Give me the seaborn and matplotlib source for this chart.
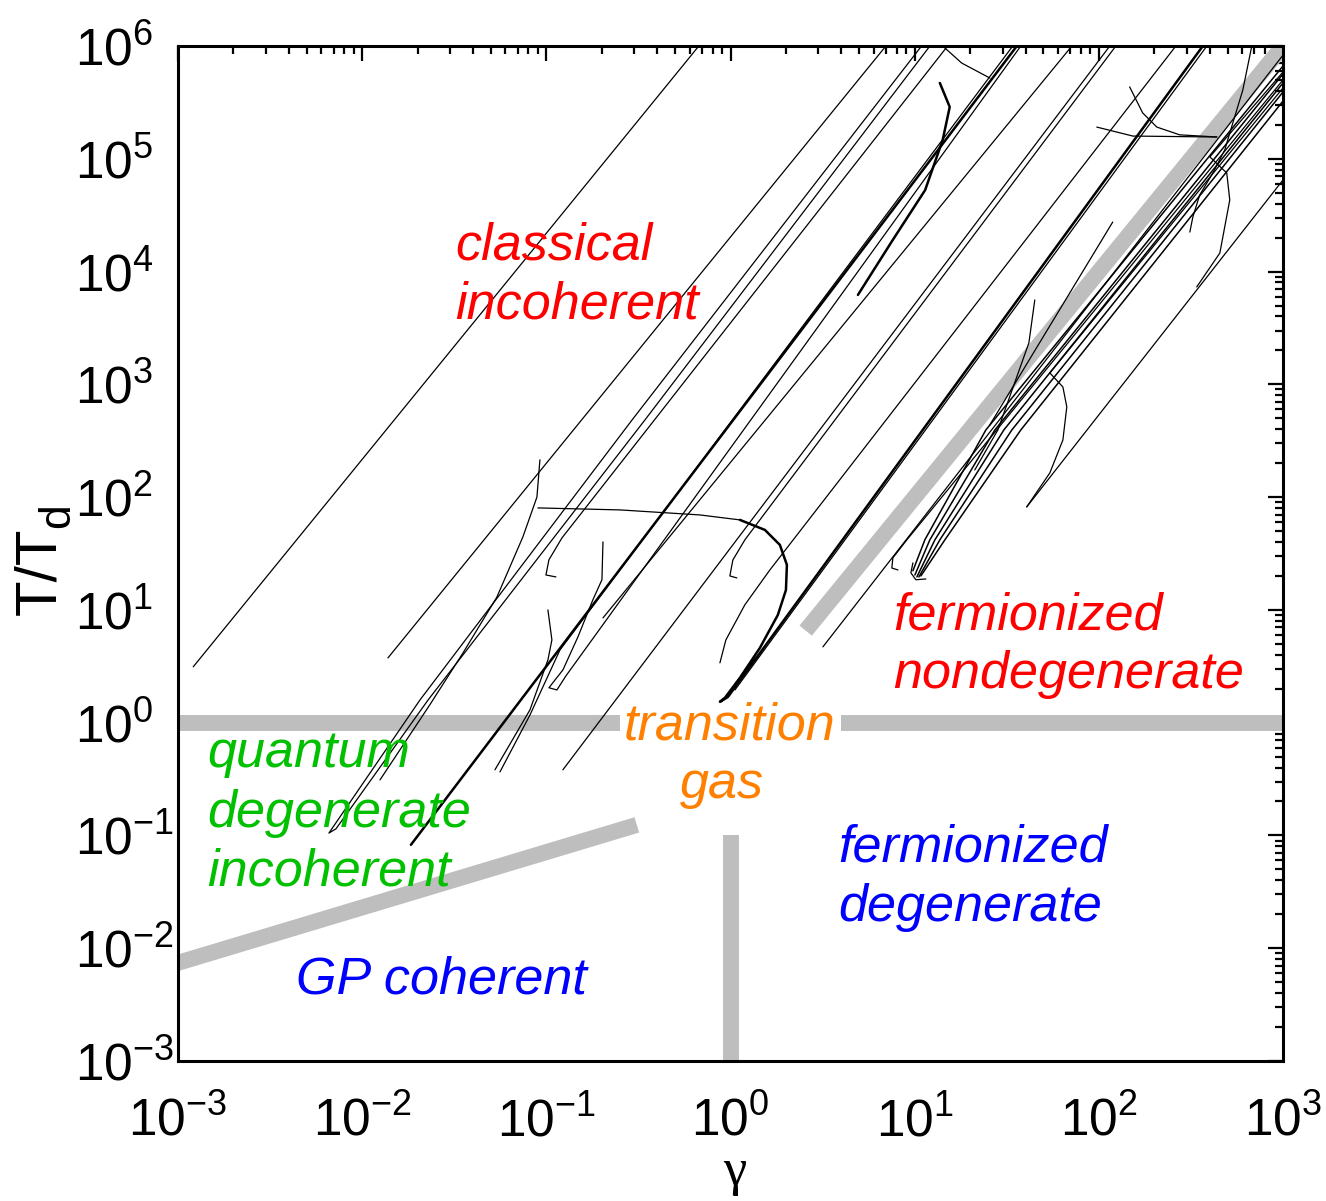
import numpy as np
import pandas as pd
import matplotlib
matplotlib.use("Agg")
import matplotlib.pyplot as plt
import seaborn as sns
from matplotlib.ticker import FixedLocator, NullFormatter

# ---------------- data ----------------
# axis decades
gamma_decades = [1e-3, 1e-2, 1e-1, 1e0, 1e1, 1e2, 1e3]
T_decades = [1e-3, 1e-2, 1e-1, 1e0, 1e1, 1e2, 1e3, 1e4, 1e5, 1e6]

# straight power-law trajectories: low end -> high end
straight_gamma_lo = [1.21e-3, 0.0138, 0.123, 0.203, 3.175, 40.6, 25.6, 1.057]
straight_T_lo     = [3.13, 3.75, 0.382, 8.49, 4.70, 81.9, 437, 1.95]
straight_gamma_hi = [0.673, 6.98, 114.7, 71.4, 1000, 1000, 119, 386]
straight_T_hi     = [1e6, 1e6, 1e6, 1e6, 8.3e5, 6.49e4, 2.75e4, 1e6]

# bold bundle
bundle_gamma = [0.0184, 35.9]
bundle_T = [0.0826, 1e6]

# curved / hooked trajectories
a_gamma = [10.9, 0.292, 0.0206, 6.6e-3, 7.21e-3, 0.0228, 0.343, 12.1]
a_T = [1e6, 483, 1.59, 0.105, 0.1145, 1.59, 483, 1e6]
c1_gamma = [0.0923, 0.0889, 0.0746, 0.0539, 0.0353, 0.0233, 0.0125]
c1_T = [214, 100, 44.4, 13.0, 4.16, 1.44, 0.311]
h1_gamma = [0.1127, 0.0995, 0.1033, 0.1216, 15.1]
h1_T = [19.6, 20.4, 27.8, 43.5, 1e6]
c2_gamma = [0.203, 0.2004, 0.179, 0.1485, 0.1231, 0.1033, 0.1141, 0.1278, 37.7]
c2_T = [40.1, 18.5, 12.3, 5.77, 2.94, 2.04, 1.95, 2.60, 1e6]
c3_gamma = [0.102, 0.1072, 0.102, 0.0815, 0.0526]
c3_T = [10.0, 5.42, 3.60, 1.30, 0.382]
c3b_gamma = [0.056, 0.0815, 0.1186, 34.1]
c3b_T = [0.366, 1.17, 4.42, 1e6]
c4_flat_gamma = [0.090, 0.251, 0.682, 1.125]
c4_flat_T = [80.2, 77.0, 69.5, 62.8]
c4_bend_gamma = [1.125, 1.537, 1.854, 2.024, 2.0, 1.808, 1.444,
                 1.125, 0.932, 0.876, 0.968, 367]
c4_bend_T = [62.8, 51.2, 37.7, 25.1, 15.0, 9.03, 4.60,
             2.50, 1.66, 1.53, 1.69, 1e6]
c5_gamma = [0.876, 0.944, 1.197, 1.636, 262]
c5_T = [3.39, 5.42, 11.1, 22.6, 1e6]
c6_gamma = [1.083, 0.992, 1.03, 1.197, 123.7]
c6_T = [19.2, 20.0, 27.7, 41.8, 1e6]
c7_gamma = [8.11, 7.52, 7.61, 9.07, 1000]
c7_T = [22.6, 23.5, 28.9, 41.8, 5.0e5]
fan1_gamma = [9.78, 11.36, 24.35, 1000]
fan1_T = [22.2, 41.8, 394, 6.65e5]
fan2_gamma = [10.03, 12.09, 27.26, 1000]
fan2_T = [20.4, 41.8, 394, 5.65e5]
fan3_gamma = [10.28, 12.88, 30.5, 1000]
fan3_T = [19.6, 41.8, 394, 4.70e5]
fan4_gamma = [10.54, 13.70, 33.7, 1000]
fan4_T = [19.6, 41.8, 394, 3.91e5]
fan5_gamma = [10.81, 14.59, 37.7, 1000]
fan5_T = [20.0, 41.8, 394, 3.25e5]
curl_gamma = [11.50, 10.15, 9.54, 9.78]
curl_T = [18.8, 18.5, 21.3, 26.1]
c8_gamma = [1000, 54.2, 63.8, 67.0, 63.8, 54.2, 40.6]
c8_T = [4.25e5, 1262, 948, 631, 321, 164, 81.9]
c9_gamma = [1000, 400.6, 495, 514, 454, 340]
c9_T = [5.88e5, 1.04e5, 7.48e4, 4.31e4, 1.46e4, 7300]
c10_gamma = [677, 605, 534, 483, 416, 353, 324, 312]
c10_T = [1e6, 4.07e5, 2.08e5, 1.20e5, 7.48e4, 4.78e4, 3.05e4, 2.24e4]
c11_gamma = [147, 173, 206.5, 275, 437]
c11_T = [4.34e5, 2.55e5, 1.91e5, 1.63e5, 1.56e5]
c12_gamma = [97.5, 153, 437]
c12_T = [1.91e5, 1.59e5, 1.56e5]
c13_gamma = [44.9, 41.7, 28.3, 21.2]
c13_T = [5600, 2330, 394, 174]
c14_gamma = [25.6, 18.0, 14.2]
c14_T = [5.2e5, 7.06e5, 1e6]
c15_gamma = [13.7, 15.5, 14.2, 11.4, 7.61, 4.92]
c15_T = [4.7e5, 2.88e5, 1.47e5, 5.28e4, 1.91e4, 6210]

# regime boundaries (gray)
bound_h1_gamma = [1e-3, 0.251]; bound_h1_T = [1, 1]
bound_h2_gamma = [3.97, 1000]; bound_h2_T = [1, 1]
bound_v_gamma = [1, 1]; bound_v_T = [1e-3, 0.1]
bound_gp_gamma = [8e-4, 0.31]; bound_gp_T = [6.65e-3, 0.124]
bound_f_gamma = [2.56, 1200]; bound_f_T = [6.55, 1.44e6]

# region labels
label_lines = ["classical", "incoherent", "fermionized", "nondegenerate",
               "transition", "gas", "quantum", "degenerate", "incoherent",
               "fermionized", "degenerate", "GP coherent"]
label_colors = ["#FF0000", "#FF0000", "#FF0000", "#FF0000",
                "#FF8000", "#FF8000", "#00C000", "#00C000", "#00C000",
                "#0000FF", "#0000FF", "#0000FF"]

# ---------------- assemble ----------------
def frame(items):
    parts = []
    for name, g, t in items:
        parts.append(pd.DataFrame({"gamma": g, "T": t, "traj": name,
                                   "order": np.arange(len(g))}))
    return pd.concat(parts, ignore_index=True)

thin_items = [(f"s{i}", [gl, gh], [tl, th]) for i, (gl, tl, gh, th) in
              enumerate(zip(straight_gamma_lo, straight_T_lo,
                            straight_gamma_hi, straight_T_hi))]
thin_items += [("a", a_gamma, a_T), ("c1", c1_gamma, c1_T), ("h1", h1_gamma, h1_T),
               ("c2", c2_gamma, c2_T), ("c3", c3_gamma, c3_T), ("c3b", c3b_gamma, c3b_T),
               ("c4f", c4_flat_gamma, c4_flat_T),
               ("c5", c5_gamma, c5_T), ("c6", c6_gamma, c6_T), ("c7", c7_gamma, c7_T),
               ("curl", curl_gamma, curl_T),
               ("c8", c8_gamma, c8_T), ("c9", c9_gamma, c9_T), ("c10", c10_gamma, c10_T),
               ("c11", c11_gamma, c11_T), ("c12", c12_gamma, c12_T),
               ("c13", c13_gamma, c13_T), ("c14", c14_gamma, c14_T)]
fan_items = [("f1", fan1_gamma, fan1_T), ("f2", fan2_gamma, fan2_T),
             ("f3", fan3_gamma, fan3_T), ("f4", fan4_gamma, fan4_T),
             ("f5", fan5_gamma, fan5_T)]
bold_items = [("b", bundle_gamma, bundle_T), ("c4b", c4_bend_gamma, c4_bend_T),
              ("c15", c15_gamma, c15_T)]
gray_items = [("h1", bound_h1_gamma, bound_h1_T), ("h2", bound_h2_gamma, bound_h2_T),
              ("v", bound_v_gamma, bound_v_T), ("gp", bound_gp_gamma, bound_gp_T),
              ("f", bound_f_gamma, bound_f_T)]

df_thin = frame(thin_items)
df_fan = frame(fan_items)
df_bold = frame(bold_items)
df_gray = frame(gray_items)

# ---------------- style ----------------
sns.set_theme(style="white")
plt.rcParams["font.family"] = ["Liberation Sans", "DejaVu Sans"]
plt.rcParams["mathtext.fontset"] = "custom"
plt.rcParams["mathtext.rm"] = "Liberation Sans"
plt.rcParams["mathtext.it"] = "Liberation Sans:italic"
plt.rcParams["mathtext.default"] = "regular"

W, H = 1326, 1201
fig = plt.figure(figsize=(W / 100, H / 100), dpi=100)
ax = fig.add_axes([178 / W, 1 - 1061 / H, (1283 - 178) / W, (1061 - 46) / H])
ax.set_xscale("log")
ax.set_yscale("log")

sns.lineplot(data=df_gray, x="gamma", y="T", units="traj", estimator=None, sort=False,
             color="#BEBEBE", linewidth=11.5, solid_capstyle="butt", ax=ax,
             legend=False, zorder=1)
sns.lineplot(data=df_thin, x="gamma", y="T", units="traj", estimator=None, sort=False,
             color="black", linewidth=0.9, ax=ax, legend=False, zorder=2)
sns.lineplot(data=df_fan, x="gamma", y="T", units="traj", estimator=None, sort=False,
             color="black", linewidth=1.1, ax=ax, legend=False, zorder=2)
sns.lineplot(data=df_bold, x="gamma", y="T", units="traj", estimator=None, sort=False,
             color="black", linewidth=1.8, ax=ax, legend=False, zorder=3)

ax.set_xlim(gamma_decades[0], gamma_decades[-1])
ax.set_ylim(T_decades[0], T_decades[-1])
ax.set_xlabel("")
ax.set_ylabel("")

def minor_positions(decades):
    return [d * k for d in decades[:-1] for k in range(2, 10)]

ax.xaxis.set_major_locator(FixedLocator(gamma_decades))
ax.yaxis.set_major_locator(FixedLocator(T_decades))
ax.xaxis.set_minor_locator(FixedLocator(minor_positions(gamma_decades)))
ax.yaxis.set_minor_locator(FixedLocator(minor_positions(T_decades)))
ax.xaxis.set_minor_formatter(NullFormatter())
ax.yaxis.set_minor_formatter(NullFormatter())

ax.tick_params(which="both", direction="in", top=True, right=True,
               color="black", width=1.6)
ax.tick_params(which="major", length=11)
ax.tick_params(which="minor", length=6)
ax.tick_params(axis="both", which="major", labelsize=37, labelcolor="black")
ax.tick_params(axis="y", which="major", pad=74)
ax.tick_params(axis="x", which="major", pad=26)
plt.setp(ax.yaxis.get_majorticklabels(), ha="left")

for s in ax.spines.values():
    s.set_color("black")
    s.set_linewidth(2.2)

# axis titles
fig.text(40 / W, 1 - 571 / H, "T/T", rotation=90, fontsize=42,
         ha="center", va="center", color="black")
fig.text(58 / W, 1 - 516 / H, "d", rotation=90, fontsize=32,
         ha="center", va="center", color="black")
fig.text(735 / W, 1 - 1172 / H, "γ", fontsize=38, family="Liberation Serif",
         ha="center", va="center", color="black")

# region labels
label_x = [455, 455, 893, 893, 730, 722, 207, 207, 207, 838, 838, 296]
label_y = [260, 318, 629, 688, 739, 798, 767, 827, 886, 862, 921, 993]
label_ha = ["left"] * 4 + ["center"] * 2 + ["left"] * 6
for txt, c, x, y, ha in zip(label_lines, label_colors, label_x, label_y, label_ha):
    fig.text(x / W, 1 - y / H, txt, color=c, fontsize=37.5, style="italic",
             ha=ha, va="baseline")

fig.savefig("out.png", dpi=100)
